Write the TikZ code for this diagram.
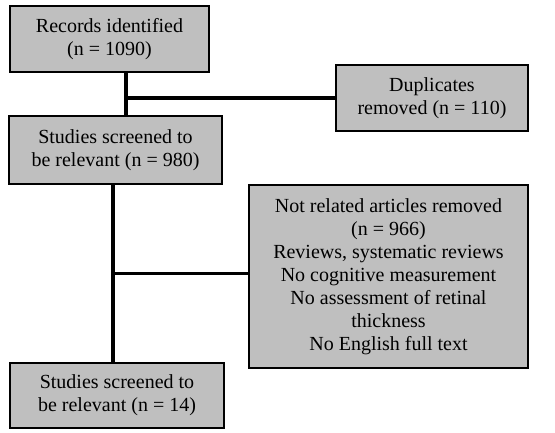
\documentclass[tikz,border=0pt]{standalone}
\usepackage{fontspec}
\setmainfont{Liberation Serif}
\usetikzlibrary{positioning}

\begin{document}
\begin{tikzpicture}[
  x=1pt, y=1pt,
  font=\fontsize{20}{23}\selectfont,
  box/.style={draw, line width=2pt, fill=gray!50, align=center, inner sep=0pt},
  link/.style={line width=3.2pt}
]
\useasboundingbox (0,0) rectangle (555,-432);

\node[box, minimum width=199pt, minimum height=66pt] (records) at (109.5,-39) {Records identified\\(n = 1090)};
\node[box, minimum width=213pt, minimum height=68pt] (screened) at (115.5,-150) {Studies screened to\\be relevant (n = 980)};
\node[box, minimum width=192pt, minimum height=66pt] (dupl) at (432,-98) {Duplicates\\removed (n = 110)};
\node[box, minimum width=279pt, minimum height=183pt] (excluded) at (388.5,-276.5) {Not related articles removed\\(n = 966)\\Reviews, systematic reviews\\No cognitive measurement\\No assessment of retinal\\thickness\\No English full text};
\node[box, minimum width=214pt, minimum height=65pt] (final) at (117,-395.5) {Studies screened to\\be relevant (n = 14)};

\coordinate[right=16.5pt of records.south] (j1);
\coordinate[left=2.5pt of screened.south] (j2);

\draw[link] (j1) -- (j1 |- screened.north);
\draw[link] (dupl.west) -- (dupl.west -| j1);
\draw[link] (j2) -- (j2 |- final.north);
\draw[link] ([yshift=3pt]excluded.west) -- ([yshift=3pt]excluded.west -| j2);

\end{tikzpicture}
\end{document}
